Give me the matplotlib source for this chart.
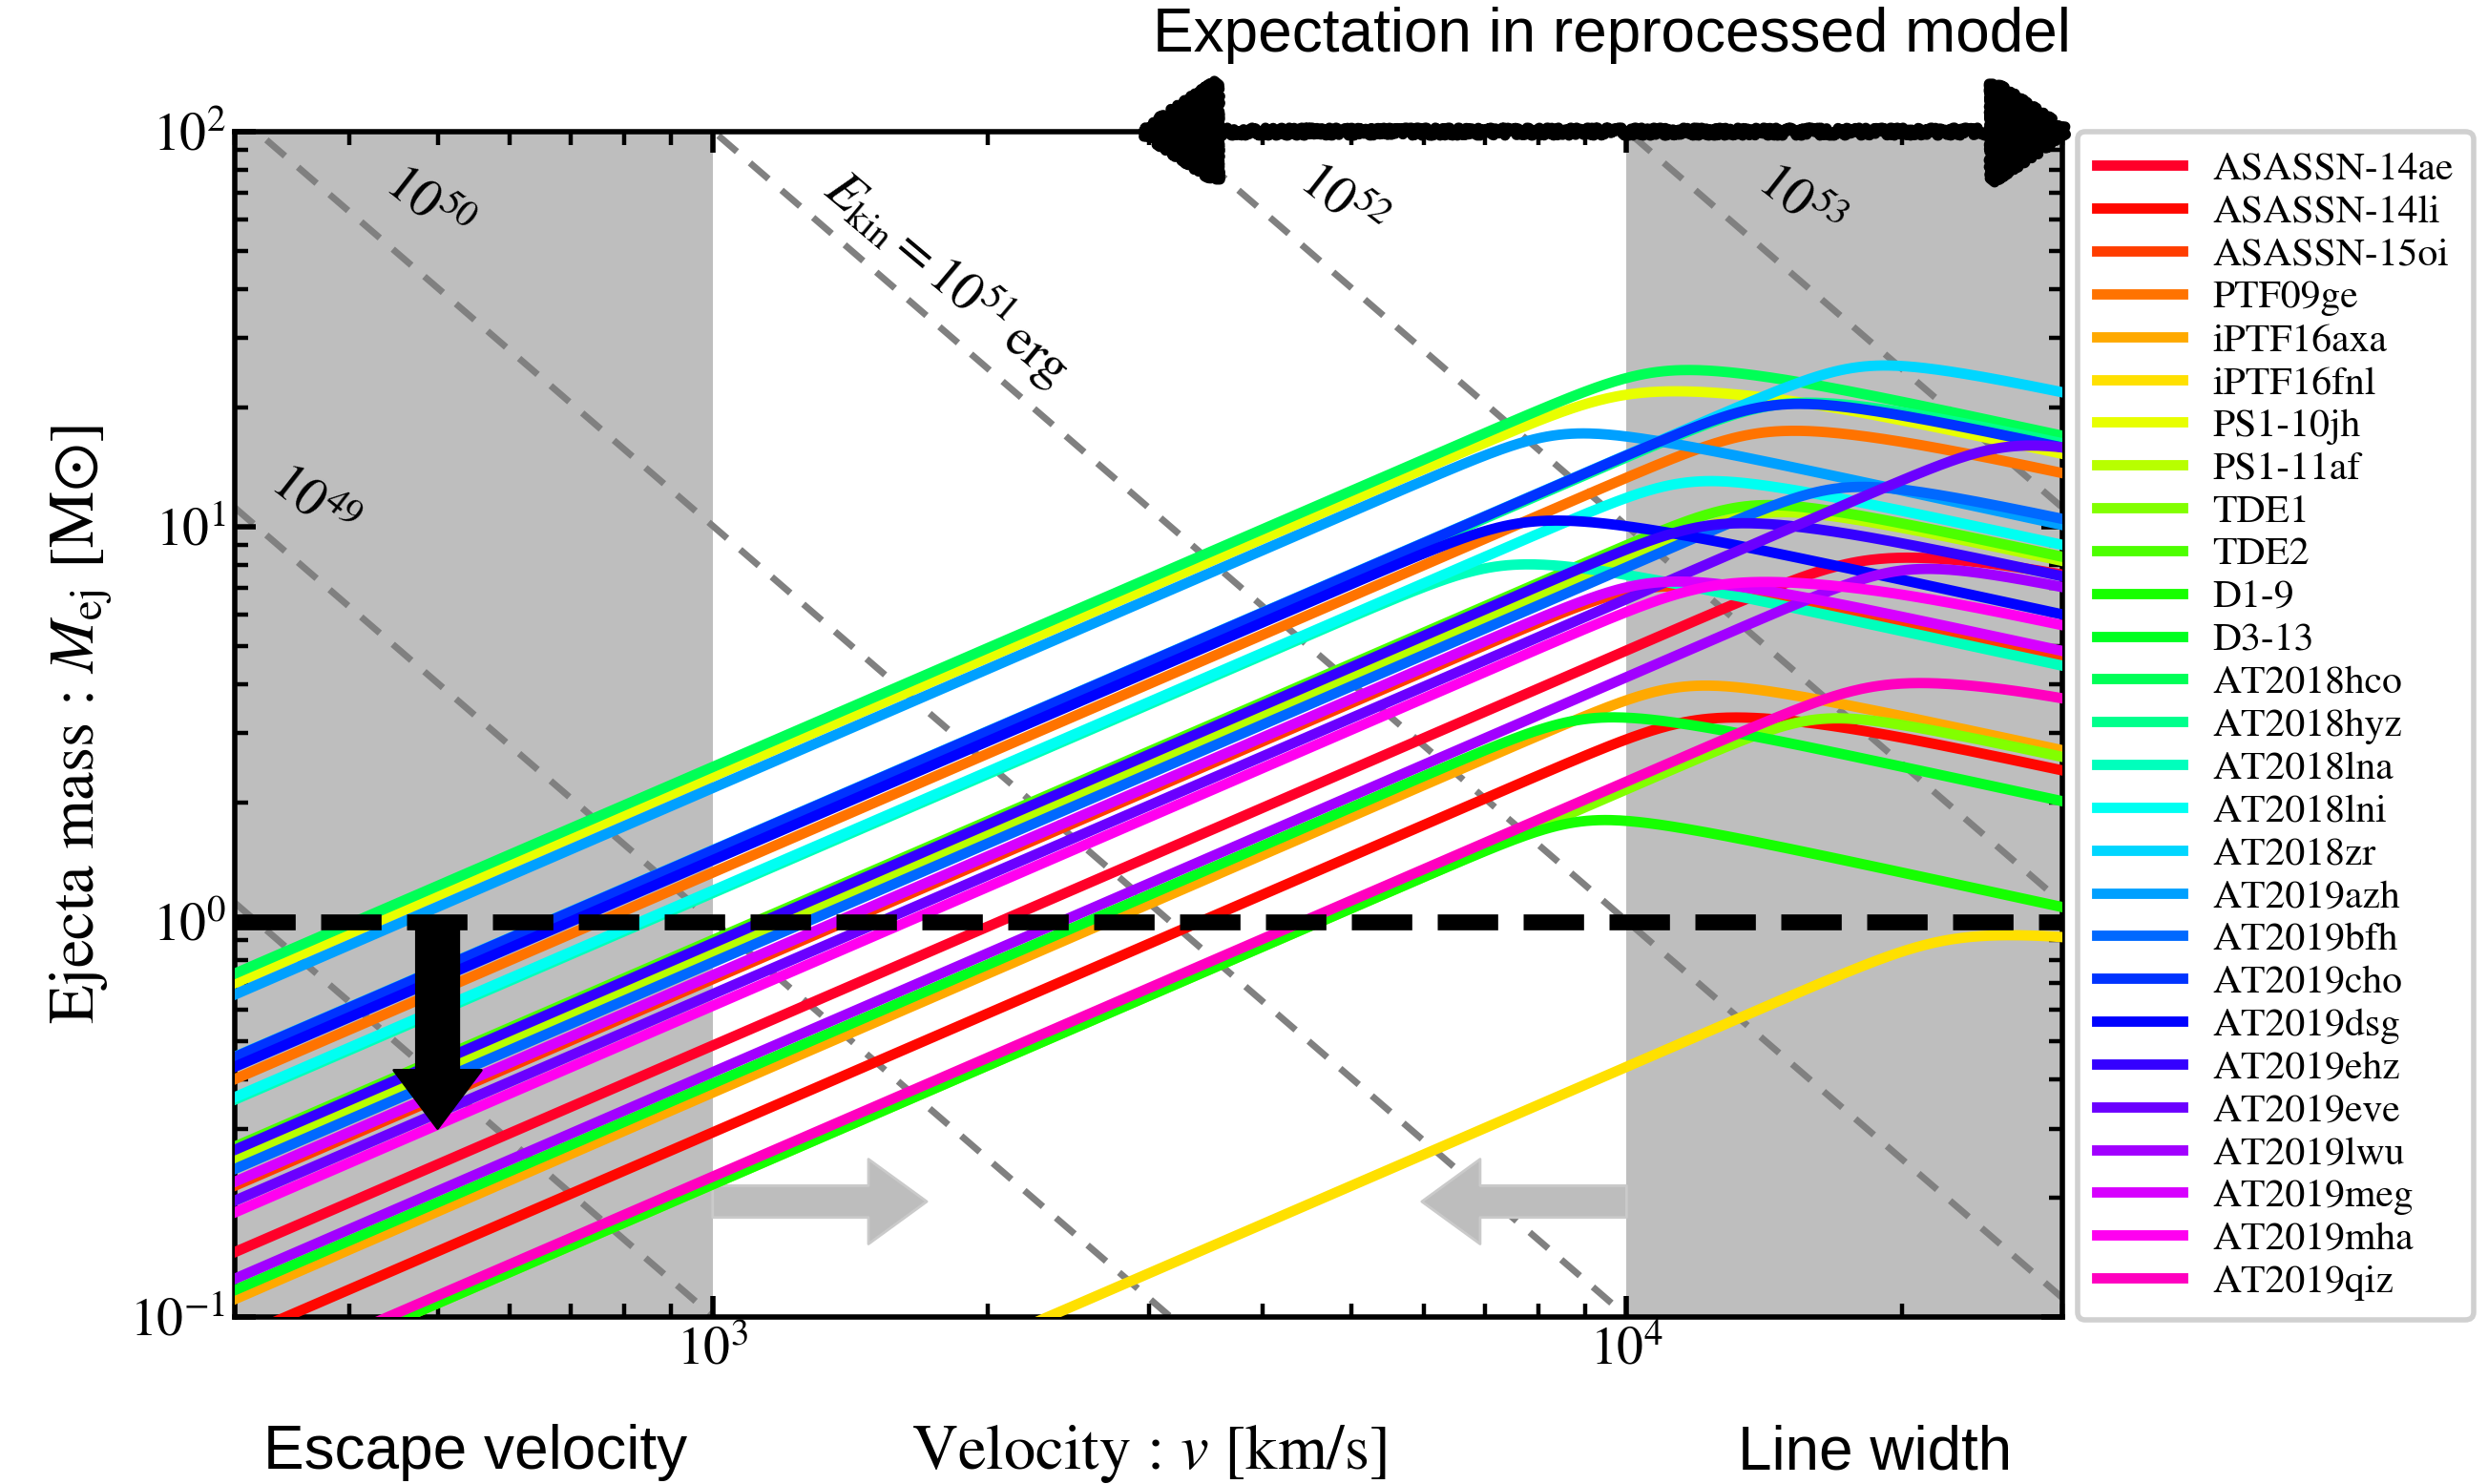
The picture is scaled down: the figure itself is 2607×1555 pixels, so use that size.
import numpy as np
import matplotlib
matplotlib.use("Agg")
import matplotlib.pyplot as plt

plt.rcParams['font.family'] = ['STIXGeneral', 'DejaVu Serif']
plt.rcParams['mathtext.fontset'] = 'stix'

# events (legend order) and values
names = ["ASASSN-14ae", "ASASSN-14li", "ASASSN-15oi", "PTF09ge", "iPTF16axa",
         "iPTF16fnl", "PS1-10jh", "PS1-11af", "TDE1", "TDE2", "D1-9", "D3-13",
         "AT2018hco", "AT2018hyz", "AT2018lna", "AT2018lni", "AT2018zr",
         "AT2019azh", "AT2019bfh", "AT2019cho", "AT2019dsg", "AT2019ehz",
         "AT2019eve", "AT2019lwu", "AT2019meg", "AT2019mha", "AT2019qiz"]
# ejecta mass on the rising branch at v = 300 km/s
m_left = [0.146, 0.088, 0.215, 0.40, 0.111, 0.0129, 0.70, 0.25, 0.065, 0.27,
          0.065, 0.117, 0.74, 0.45, 0.355, 0.36, 0.456, 0.655, 0.237, 0.455,
          0.43, 0.265, 0.197, 0.125, 0.22, 0.184, 0.068]
# plateau / peak mass
m_peak = [8.7, 3.45, 7.6, 18.5, 4.3, 0.95, 22.8, 11.9, 3.65, 12.4, 1.98, 3.55,
          26.5, 22.0, 8.6, 14.2, 27.8, 18.8, 13.8, 22.0, 11.0, 10.8, 17.6,
          8.5, 7.8, 7.5, 4.2]
# mass on the declining branch at v = 3e4 km/s
m_right = [7.7, 2.42, 4.7, 13.7, 2.72, 1.0, 15.3, 8.2, 2.62, 8.4, 1.09, 2.02,
           17.0, 16.3, 4.45, 9.0, 22.0, 10.1, 10.5, 15.9, 6.0, 7.5, 16.5,
           7.1, 4.85, 5.65, 3.75]

V_MIN, V_MAX = 300.0, 3.0e4
E_kin = [1e48, 1e49, 1e50, 1e51, 1e52, 1e53]
MSUN = 1.989e33


def ejecta_curve(v, ml, mp, mr, p=12):
    rise = ml * (v / V_MIN)
    fall = mr * (v / V_MAX) ** -0.5
    return (rise ** -p + mp ** -p + fall ** -p) ** (-1.0 / p)


fig = plt.figure(figsize=(13.035, 7.775), dpi=200)
ax = fig.add_axes([0.0944, 0.1125, 0.7346, 0.7988])

ax.axvspan(V_MIN, 1e3, color='#bebebe', lw=0, zorder=0)
ax.axvspan(1e4, V_MAX, color='#bebebe', lw=0, zorder=0)

vv = np.logspace(np.log10(V_MIN), np.log10(V_MAX), 600)
for E in E_kin:
    m = 2 * E / (vv * 1e5) ** 2 / MSUN
    ax.plot(vv, m, color='#808080', lw=2.5, ls=(0, (3.7, 2.6)), zorder=1)

colors = plt.cm.gist_rainbow(np.linspace(0, 1, len(names)))
for i in range(len(names)):
    ax.plot(vv, ejecta_curve(vv, m_left[i], m_peak[i], m_right[i]),
            color=colors[i], lw=3.9, label=names[i], zorder=3)

ax.axhline(1.0, color='black', lw=6, ls=(0, (3.8, 1.6)), zorder=4)

# arrows
ax.annotate('', xy=(500, 0.3), xytext=(500, 1.0),
            arrowprops=dict(facecolor='black', edgecolor='black', width=16,
                            headwidth=33, headlength=22), zorder=5)
ax.annotate('', xy=(1715, 0.196), xytext=(1000, 0.196),
            arrowprops=dict(facecolor='#bdbdbd', edgecolor='#cacaca', lw=1,
                            width=12, headwidth=32, headlength=22), zorder=2)
ax.annotate('', xy=(5970, 0.196), xytext=(1e4, 0.196),
            arrowprops=dict(facecolor='#bdbdbd', edgecolor='#cacaca', lw=1,
                            width=12, headwidth=32, headlength=22), zorder=2)

top = ax.annotate('', xy=(3.14e4, 100), xytext=(2.85e3, 100),
                  arrowprops=dict(arrowstyle='<|-|>,head_length=0.55,head_width=0.36',
                                  mutation_scale=50, color='black', lw=4),
                  annotation_clip=False, zorder=6)
top.arrow_patch.set_sketch_params(scale=4, length=5, randomness=14)
top.arrow_patch.set_clip_on(False)

# energy labels
ax.text(486, 64.9, r'$10^{50}$', rotation=-38, fontsize=20, ha='center', va='center')
ax.text(364, 11.4, r'$10^{49}$', rotation=-38, fontsize=20, ha='center', va='center')
ax.text(1807, 42.7, r'$E_{\rm kin} = 10^{51}\,{\rm erg}$', rotation=-40, fontsize=20,
        ha='center', va='center')
ax.text(4864, 65.9, r'$10^{52}$', rotation=-38, fontsize=20, ha='center', va='center')
ax.text(15400, 65.9, r'$10^{53}$', rotation=-38, fontsize=20, ha='center', va='center')

sans = ['Liberation Sans', 'DejaVu Sans']
fig.text(0.648, 0.976, 'Expectation in reprocessed model', family=sans,
         fontsize=23, ha='center', va='center')
fig.text(0.191, 0.021, 'Escape velocity', family=sans, fontsize=23,
         ha='center', va='center')
fig.text(0.7535, 0.021, 'Line width', family=sans, fontsize=23,
         ha='center', va='center')

ax.set_xscale('log')
ax.set_yscale('log')
ax.set_xlim(V_MIN, V_MAX)
ax.set_ylim(0.1, 100)
ax.set_xlabel(r'Velocity : $v$ [km/s]', fontsize=24, labelpad=18)
ax.set_ylabel(r'Ejecta mass : $M_{\rm ej}$ [M$\odot$]', fontsize=24, labelpad=6)
ax.tick_params(which='both', direction='in', top=True, right=True, labelsize=20)
ax.tick_params(which='major', length=8, width=2)
ax.tick_params(which='minor', length=5, width=1.6)
for s in ax.spines.values():
    s.set_linewidth(2)

leg = ax.legend(loc='upper left', bbox_to_anchor=(1.008, 1.0), fontsize=15,
                labelspacing=0.16, handlelength=2.15, handletextpad=0.75,
                borderaxespad=0, fancybox=True, framealpha=1, borderpad=0.5)
leg.get_frame().set_edgecolor('#d0d0d0')
leg.get_frame().set_linewidth(2)

fig.savefig('out.png', dpi=200)
